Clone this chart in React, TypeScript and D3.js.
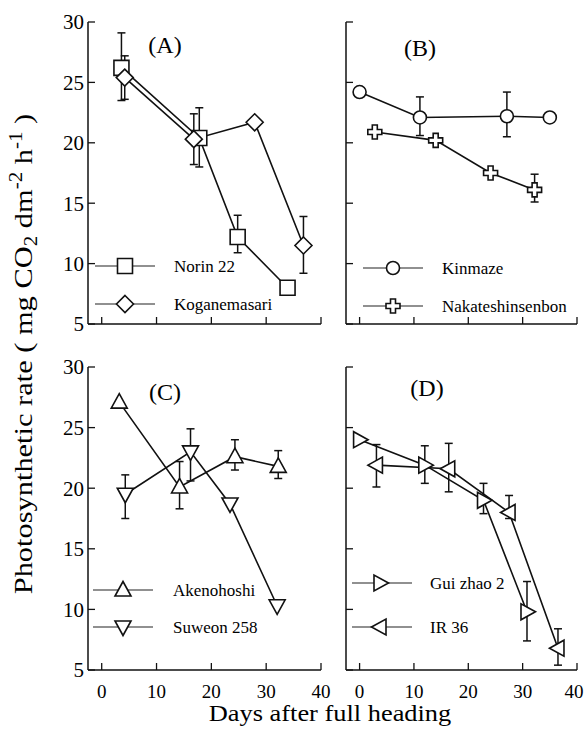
import React, { useEffect, useRef } from 'react';
import * as d3 from 'd3';

// --- data ---
const yTicks = [5, 10, 15, 20, 25, 30];
const xTicks = [0, 10, 20, 30, 40];

// (A)
const norinDays = [3.6, 17.8, 24.8, 33.9];
const norinRate = [26.2, 20.4, 12.2, 8.0];
const norinErr = [[23.5, 29.1], [18.0, 22.9], [10.9, 14.0], null];
const koganeDays = [4.2, 16.8, 27.9, 36.8];
const koganeRate = [25.4, 20.3, 21.7, 11.5];
const koganeErr = [[23.6, 27.2], [18.2, 22.4], null, [9.2, 13.9]];
// (B)
const kinmazeDays = [0, 11.1, 27.1, 35];
const kinmazeRate = [24.2, 22.1, 22.2, 22.1];
const kinmazeErr = [null, [20.6, 23.8], [20.5, 24.2], null];
const nakateDays = [2.8, 14.0, 24.1, 32.2];
const nakateRate = [20.9, 20.2, 17.5, 16.1];
const nakateErr = [null, null, null, [15.1, 17.4]];
// (C)
const akenoDays = [3.2, 14.2, 24.3, 32.2];
const akenoRate = [27.1, 20.1, 22.6, 21.8];
const akenoErr = [null, [18.3, 22.2], [21.5, 24.0], [20.8, 23.1]];
const suweonDays = [4.3, 16.2, 23.4, 32.0];
const suweonRate = [19.5, 23.0, 18.7, 10.3];
const suweonErr = [[17.5, 21.1], [20.6, 24.9], null, null];
// (D)
const guiDays = [0, 12.0, 22.8, 30.8];
const guiRate = [24.0, 21.9, 19.0, 9.8];
const guiErr = [null, [20.4, 23.5], [17.9, 20.4], [7.4, 12.3]];
const irDays = [3.1, 16.4, 27.5, 36.5];
const irRate = [21.9, 21.6, 18.0, 6.8];
const irErr = [[20.1, 23.6], [19.7, 23.7], [17.5, 19.4], [5.4, 8.4]];

const panelNames = ['(A)', '(B)', '(C)', '(D)'];

type Series = { name: string; marker: string; days: number[]; rate: number[]; err: (number[] | null)[] };

const panelSeries: Series[][] = [
  [
    { name: 'Norin 22', marker: 'square', days: norinDays, rate: norinRate, err: norinErr },
    { name: 'Koganemasari', marker: 'diamond', days: koganeDays, rate: koganeRate, err: koganeErr },
  ],
  [
    { name: 'Kinmaze', marker: 'circle', days: kinmazeDays, rate: kinmazeRate, err: kinmazeErr },
    { name: 'Nakateshinsenbon', marker: 'cross', days: nakateDays, rate: nakateRate, err: nakateErr },
  ],
  [
    { name: 'Akenohoshi', marker: 'triUp', days: akenoDays, rate: akenoRate, err: akenoErr },
    { name: 'Suweon 258', marker: 'triDown', days: suweonDays, rate: suweonRate, err: suweonErr },
  ],
  [
    { name: 'Gui zhao 2', marker: 'triRight', days: guiDays, rate: guiRate, err: guiErr },
    { name: 'IR 36', marker: 'triLeft', days: irDays, rate: irRate, err: irErr },
  ],
];

const FONT = "'Liberation Serif', 'Times New Roman', serif";

const markerPath = (m: string) => {
  switch (m) {
    case 'square': return 'M-7.5,-7.5H7.5V7.5H-7.5Z';
    case 'diamond': return 'M0,-8.5L8.5,0L0,8.5L-8.5,0Z';
    case 'circle': return 'M6.5,0A6.5,6.5 0 1,1 -6.5,0A6.5,6.5 0 1,1 6.5,0Z';
    case 'cross': return 'M-2.5,-7H2.5V-2.5H7V2.5H2.5V7H-2.5V2.5H-7V-2.5H-2.5Z';
    case 'triUp': return 'M0,-8.5L8,6L-8,6Z';
    case 'triDown': return 'M0,8.5L8,-6L-8,-6Z';
    case 'triRight': return 'M8.5,0L-6,-8L-6,8Z';
    case 'triLeft': return 'M-8.5,0L6,-8L6,8Z';
  }
  return '';
};

const App = () => {
  const svgRef = useRef(null);

  useEffect(() => {
    const svg = d3.select(svgRef.current);
    svg.selectAll('*').remove();
    draw(svg);
  }, []);

  const draw = (svg: any) => {
    const xRanges = [[88, 321], [346, 577], [88, 321], [346, 577]];
    const yRanges = [[324, 22], [324, 22], [670, 367], [670, 367]];
    const legendX = [[95, 155, 125, 174], [363, 423, 393, 442], [93, 153, 123, 173], [352, 412, 380, 430]];
    const legendY = [[266, 304], [268, 306], [590, 627], [583, 627]];
    const labelPos = [[165, 45], [420, 48], [165, 392], [427, 388]];

    panelSeries.forEach((seriesList, p) => {
      const x = d3.scaleLinear().domain([-2.5, 40]).range(xRanges[p]);
      const y = d3.scaleLinear().domain([5, 30]).range(yRanges[p]);
      const g = svg.append('g');
      const left = xRanges[p][0];
      const bottom = yRanges[p][0];

      // axes
      g.append('line').attr('x1', left).attr('x2', left).attr('y1', y(5)).attr('y2', y(30))
        .attr('stroke', '#111').attr('stroke-width', 1.5);
      g.append('line').attr('x1', left).attr('x2', x(40)).attr('y1', bottom).attr('y2', bottom)
        .attr('stroke', '#111').attr('stroke-width', 1.5);
      yTicks.forEach(t => {
        g.append('line').attr('x1', left).attr('x2', left + 7).attr('y1', y(t)).attr('y2', y(t))
          .attr('stroke', '#111').attr('stroke-width', 1.3);
        if (p % 2 === 0) {
          g.append('text').attr('x', left - 4).attr('y', y(t)).attr('dy', '0.35em')
            .attr('text-anchor', 'end').attr('font-family', FONT).attr('font-size', 21)
            .text(t);
        }
      });
      xTicks.forEach(t => {
        g.append('line').attr('x1', x(t)).attr('x2', x(t)).attr('y1', bottom).attr('y2', bottom - 7)
          .attr('stroke', '#111').attr('stroke-width', 1.3);
        if (p >= 2) {
          g.append('text').attr('x', p === 3 && t === 40 ? x(t) - 3 : x(t)).attr('y', bottom + 21).attr('dy', '0.35em')
            .attr('text-anchor', 'middle').attr('font-family', FONT).attr('font-size', 19)
            .text(t);
        }
      });

      g.append('text').attr('x', labelPos[p][0]).attr('y', labelPos[p][1]).attr('dy', '0.35em')
        .attr('text-anchor', 'middle').attr('font-family', FONT).attr('font-size', 24)
        .text(panelNames[p]);

      seriesList.forEach(s => {
        const pts = s.days.map((d, i) => [x(d), y(s.rate[i])]);
        g.append('path').attr('d', d3.line()(pts as any)).attr('fill', 'none')
          .attr('stroke', '#111').attr('stroke-width', 1.6);
        // error bars
        s.err.forEach((e, i) => {
          if (!e) return;
          const cx = x(s.days[i]);
          g.append('line').attr('x1', cx).attr('x2', cx).attr('y1', y(e[0])).attr('y2', y(e[1]))
            .attr('stroke', '#111').attr('stroke-width', 1.5);
          [e[0], e[1]].forEach(v => {
            g.append('line').attr('x1', cx - 4).attr('x2', cx + 4).attr('y1', y(v)).attr('y2', y(v))
              .attr('stroke', '#111').attr('stroke-width', 1.5);
          });
        });
      });
      seriesList.forEach((s, si) => {
        s.days.forEach((d, i) => {
          g.append('path').attr('d', markerPath(s.marker))
            .attr('transform', `translate(${x(d)},${y(s.rate[i])})`)
            .attr('fill', 'white').attr('stroke', '#111').attr('stroke-width', 1.6);
        });
        // legend
        const lx = legendX[p];
        const ly = legendY[p][si];
        g.append('line').attr('x1', lx[0]).attr('x2', lx[1]).attr('y1', ly).attr('y2', ly)
          .attr('stroke', '#222').attr('stroke-width', 1.2);
        g.append('path').attr('d', markerPath(s.marker))
          .attr('transform', `translate(${lx[2]},${ly})`)
          .attr('fill', 'white').attr('stroke', '#111').attr('stroke-width', 1.6);
        g.append('text').attr('x', lx[3]).attr('y', ly).attr('dy', '0.35em')
          .attr('font-family', FONT).attr('font-size', 17).text(s.name);
      });
    });

    // axis titles
    svg.append('text').attr('x', 330).attr('y', 713).attr('dy', '0.35em')
      .attr('text-anchor', 'middle').attr('font-family', FONT).attr('font-size', 24)
      .attr('transform', 'translate(330,0) scale(1.1,1) translate(-330,0)')
      .text('Days after full heading');

    const yt = svg.append('text')
      .attr('transform', 'translate(32,354) rotate(-90) scale(1.17,1)')
      .attr('text-anchor', 'middle').attr('font-family', FONT).attr('font-size', 26);
    yt.append('tspan').text('Photosynthetic rate ( mg CO');
    yt.append('tspan').attr('dy', 5).attr('font-size', 18).text('2');
    yt.append('tspan').attr('dy', -5).text(' dm');
    yt.append('tspan').attr('dy', -10).attr('font-size', 18).text('-2');
    yt.append('tspan').attr('dy', 10).text(' h');
    yt.append('tspan').attr('dy', -10).attr('font-size', 18).text('-1');
    yt.append('tspan').attr('dy', 10).text(' )');
  };

  return (
    <div>
      <svg ref={svgRef} width={585} height={729}
        style={{ position: 'absolute', left: 0, top: 0, background: 'white' }}></svg>
    </div>
  );
};

export default App;
